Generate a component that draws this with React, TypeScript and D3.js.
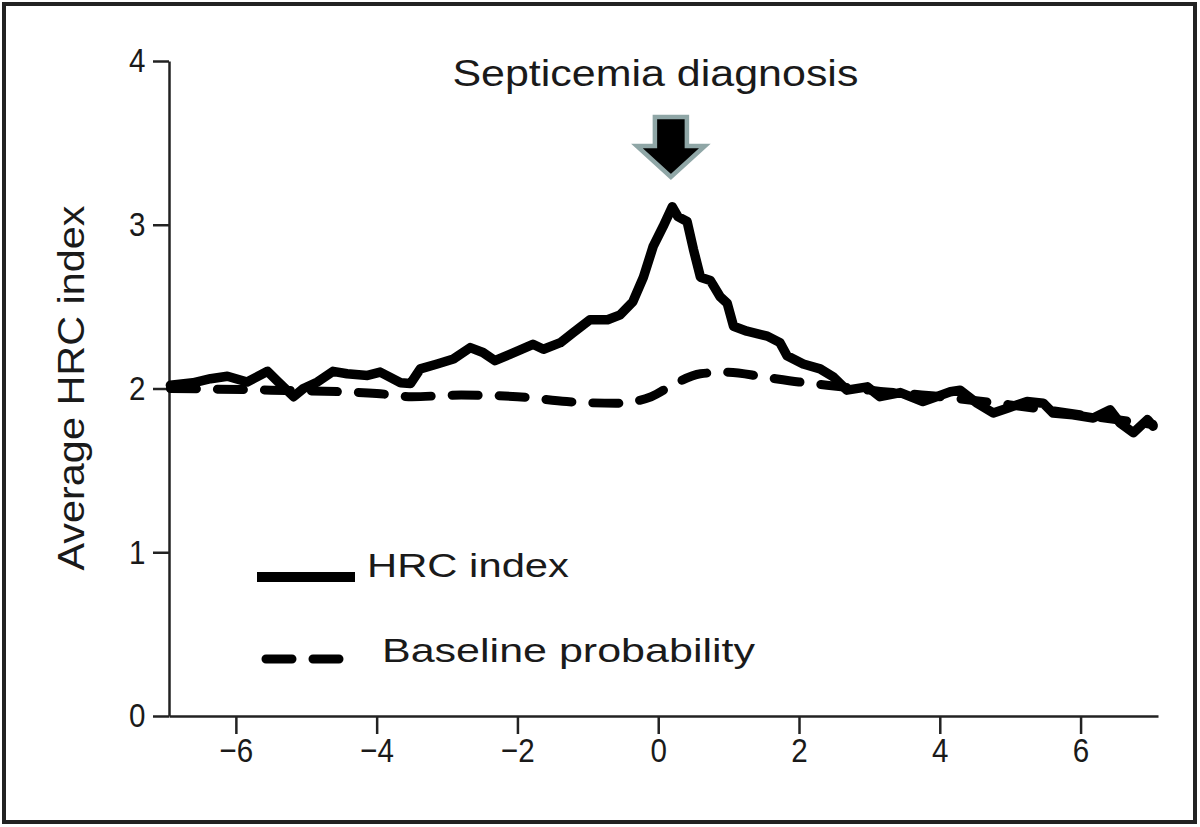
import React, { useEffect, useRef } from 'react';
import * as d3 from 'd3';

// time relative to diagnosis (x) and average HRC index (y)
const hrcTime = [
  -6.93, -6.61, -6.36, -6.12, -5.84, -5.55, -5.41, -5.18, -5.04, -4.84, -4.62, -4.42,
  -4.13, -3.95, -3.66, -3.52, -3.38, -3.14, -2.91, -2.67, -2.49, -2.32, -2.1, -1.78,
  -1.63, -1.39, -1.21, -0.97, -0.72, -0.54, -0.36, -0.21, -0.07, 0.07, 0.2, 0.28, 0.41,
  0.5, 0.6, 0.74, 0.88, 0.98, 1.07, 1.26, 1.55, 1.73, 1.83, 2.06, 2.3, 2.49, 2.68, 2.97,
  3.15, 3.44, 3.76, 4.15, 4.29, 4.53, 4.76, 4.96, 5.24, 5.47, 5.61, 5.89, 6.18, 6.42,
  6.56, 6.75, 6.95, 7.03,
];
const hrcValue = [
  2.02, 2.035, 2.06, 2.075, 2.04, 2.105, 2.045, 1.95, 2.0, 2.04, 2.105, 2.09,
  2.08, 2.1, 2.035, 2.03, 2.12, 2.15, 2.18, 2.25, 2.22, 2.17, 2.21, 2.27,
  2.24, 2.28, 2.34, 2.42, 2.42, 2.45, 2.53, 2.68, 2.87, 2.99, 3.11, 3.05, 3.02,
  2.85, 2.68, 2.66, 2.56, 2.52, 2.38, 2.35, 2.32, 2.28, 2.2, 2.15, 2.12, 2.07, 1.99, 2.01,
  1.95, 1.975, 1.92, 1.98, 1.99, 1.91, 1.85, 1.88, 1.92, 1.91, 1.85, 1.84, 1.82, 1.87,
  1.79, 1.73, 1.81, 1.77,
];

const baseTime = [-6.93, -5.5, -4.5, -4.0, -3.5, -2.8, -2.0, -1.3, -0.6, -0.1, 0.2, 0.6, 1.0, 1.5, 2.0, 2.6, 3.0, 4.0, 5.0, 6.0, 7.03];
const baseValue = [2.0, 1.99, 1.98, 1.97, 1.95, 1.96, 1.95, 1.92, 1.91, 1.95, 2.02, 2.09, 2.1, 2.07, 2.04, 2.01, 1.99, 1.95, 1.9, 1.84, 1.78];

const xTicks = [-6, -4, -2, 0, 2, 4, 6];
const yTicks = [0, 1, 2, 3, 4];

const regular = '"Liberation Sans", Arial, sans-serif';

const App = () => {
  const ref = useRef<SVGSVGElement>(null);

  useEffect(() => {
    const svg = d3.select(ref.current);
    svg.selectAll('*').remove();

    const x = d3.scaleLinear().domain([-6.95, 7.1]).range([169, 1158]);
    const y = d3.scaleLinear().domain([0, 4]).range([716, 61]);

    // frame around the figure
    svg.append('rect')
      .attr('x', 4).attr('y', 4).attr('width', 1191).attr('height', 818)
      .attr('fill', 'white').attr('stroke', '#222').attr('stroke-width', 4);

    // axes
    const xAxis = svg.append('g')
      .attr('transform', 'translate(0,716)')
      .call(d3.axisBottom(x).tickValues(xTicks).tickSize(18).tickSizeOuter(0).tickPadding(4).tickFormat(d3.format('d')));
    const yAxis = svg.append('g')
      .attr('transform', 'translate(169,0)')
      .call(d3.axisLeft(y).tickValues(yTicks).tickSize(16).tickSizeOuter(0).tickPadding(11).tickFormat(d3.format('d')));

    [xAxis, yAxis].forEach(g => {
      g.select('.domain').attr('stroke', '#222').attr('stroke-width', 2.5);
      g.selectAll('.tick line').attr('stroke', '#222').attr('stroke-width', 2.5);
      // the labels are set in a condensed face in the original
      g.selectAll('.tick text')
        .attr('fill', '#1a1a1a')
        .attr('transform', 'scale(0.87,1)')
        .style('font-family', regular)
        .style('font-size', '34px');
    });

    // baseline probability (dashed)
    const baseData = baseTime.map((t, i) => [t, baseValue[i]] as [number, number]);
    const hrcData = hrcTime.map((t, i) => [t, hrcValue[i]] as [number, number]);
    const line = d3.line<[number, number]>().x(d => x(d[0])).y(d => y(d[1]));
    const smooth = d3.line<[number, number]>().x(d => x(d[0])).y(d => y(d[1])).curve(d3.curveMonotoneX);

    svg.append('path')
      .attr('d', smooth(baseData))
      .attr('fill', 'none')
      .attr('stroke', '#000')
      .attr('stroke-width', 9)
      .attr('stroke-linecap', 'round')
      .attr('stroke-dasharray', '26 21');

    svg.append('path')
      .attr('d', line(hrcData))
      .attr('fill', 'none')
      .attr('stroke', '#000')
      .attr('stroke-width', 9.5)
      .attr('stroke-linejoin', 'round')
      .attr('stroke-linecap', 'round');

    // annotation
    svg.append('text')
      .attr('x', x(-0.04)).attr('y', 86)
      .attr('text-anchor', 'middle')
      .attr('textLength', 406).attr('lengthAdjust', 'spacingAndGlyphs')
      .style('font-family', regular).style('font-size', '37px').attr('fill', '#1a1a1a')
      .text('Septicemia diagnosis');

    const ax = x(0.18);
    const arrow = [
      [ax - 16, 117], [ax + 16, 117], [ax + 16, 146], [ax + 34, 146],
      [ax, 177], [ax - 34, 146], [ax - 16, 146],
    ];
    svg.append('polygon')
      .attr('points', arrow.map(p => p.join(',')).join(' '))
      .attr('fill', '#000')
      .attr('stroke', '#8fa6a6')
      .attr('stroke-width', 4.5)
      .attr('stroke-linejoin', 'miter');

    // y axis title
    svg.append('text')
      .attr('transform', 'translate(84,388) rotate(-90)')
      .attr('text-anchor', 'middle')
      .attr('textLength', 365).attr('lengthAdjust', 'spacingAndGlyphs')
      .style('font-family', regular).style('font-size', '37px').attr('fill', '#1a1a1a')
      .text('Average HRC index');

    // legend
    svg.append('line')
      .attr('x1', 257).attr('x2', 355).attr('y1', 577).attr('y2', 577)
      .attr('stroke', '#000').attr('stroke-width', 10);
    svg.append('text')
      .attr('x', 367).attr('y', 577)
      .attr('textLength', 202).attr('lengthAdjust', 'spacingAndGlyphs')
      .style('font-family', regular).style('font-size', '33px').attr('fill', '#1a1a1a')
      .text('HRC index');

    svg.append('line')
      .attr('x1', 266).attr('x2', 352).attr('y1', 659).attr('y2', 659)
      .attr('stroke', '#000').attr('stroke-width', 9)
      .attr('stroke-linecap', 'round')
      .attr('stroke-dasharray', '26 21');
    svg.append('text')
      .attr('x', 382).attr('y', 662)
      .attr('textLength', 373).attr('lengthAdjust', 'spacingAndGlyphs')
      .style('font-family', regular).style('font-size', '33px').attr('fill', '#1a1a1a')
      .text('Baseline probability');
  }, []);

  return (
    <svg
      ref={ref}
      width={1200}
      height={827}
      style={{ position: 'absolute', left: 0, top: 0, background: 'white' }}
    />
  );
};

export default App;
